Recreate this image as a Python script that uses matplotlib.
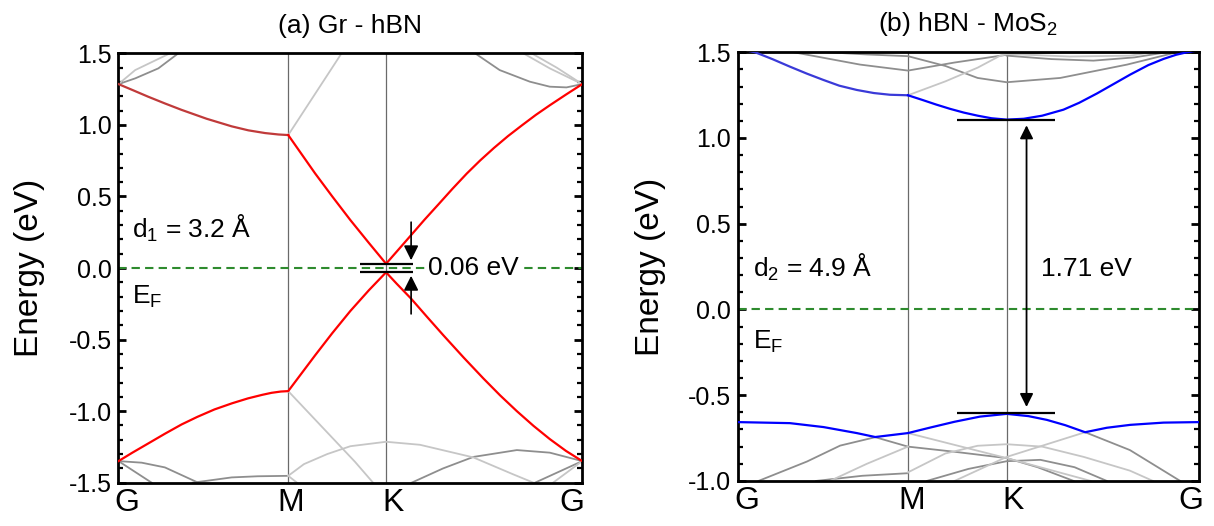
import numpy as np
import matplotlib
matplotlib.use("Agg")
import matplotlib.pyplot as plt
from matplotlib.ticker import MultipleLocator

plt.rcParams['font.family'] = ['Liberation Sans', 'DejaVu Sans']
plt.rcParams['mathtext.fontset'] = 'custom'
plt.rcParams['mathtext.rm'] = 'Liberation Sans'

# ---- high symmetry points (fraction of the path) ----
kpath_labels = ['G', 'M', 'K', 'G']
kM_a, kK_a = 0.366, 0.577
kM_b, kK_b = 0.369, 0.583

# ---- (a) Gr - hBN : graphene bands (red) ----
k_up_gm = [0, 0.03, 0.064, 0.10, 0.136, 0.19, 0.244, 0.28, 0.316, 0.345, 0.366]
E_up_gm = [1.285, 1.244, 1.197, 1.15, 1.105, 1.043, 0.99, 0.962, 0.943, 0.933, 0.929]
k_up_a = [0.366, 0.395, 0.424, 0.461, 0.50, 0.54, 0.577, 0.60, 0.631, 0.66, 0.69, 0.72, 0.751, 0.78,
          0.81, 0.84, 0.87, 0.90, 0.93, 0.965, 1.0]
E_up_a = [0.929, 0.795, 0.661, 0.50, 0.335, 0.175, 0.03, 0.115, 0.23, 0.338, 0.445, 0.553, 0.66, 0.752,
          0.84, 0.922, 0.997, 1.07, 1.137, 1.212, 1.285]
k_lo_a = [0, 0.03, 0.064, 0.10, 0.136, 0.17, 0.207, 0.245, 0.279, 0.31, 0.33, 0.35, 0.366,
          0.395, 0.424, 0.461, 0.50, 0.54, 0.577,
          0.60, 0.631, 0.665, 0.70, 0.745, 0.787, 0.823, 0.859, 0.895, 0.93, 0.965, 1.0]
E_lo_a = [-1.349, -1.29, -1.226, -1.158, -1.093, -1.04, -0.988, -0.945, -0.911, -0.886, -0.872, -0.863, -0.860,
          -0.735, -0.61, -0.455, -0.30, -0.155, -0.03,
          -0.11, -0.214, -0.34, -0.468, -0.628, -0.772, -0.89, -1.0, -1.103, -1.195, -1.278, -1.349]

# hBN / other bands (gray)
gray_dark_a = [
    ([0, 0.036, 0.086, 0.129], [1.285, 1.325, 1.395, 1.5]),
    ([0.769, 0.822, 0.887, 0.930, 0.966, 1.0], [1.5, 1.383, 1.302, 1.267, 1.262, 1.285]),
    ([0, 0.05, 0.10, 0.172], [-1.349, -1.36, -1.393, -1.5]),
    ([0.16, 0.244, 0.30, 0.366], [-1.5, -1.463, -1.455, -1.452]),
    ([0.632, 0.70, 0.765, 0.859, 0.93, 1.0], [-1.5, -1.40, -1.32, -1.272, -1.29, -1.349]),
    ([0, 0.0716], [-1.349, -1.5]),
    ([1.0, 0.898], [-1.349, -1.5]),
]
gray_light_a = [
    ([0, 0.036, 0.111], [1.285, 1.383, 1.5]),
    ([0.366, 0.481], [0.929, 1.5]),
    ([0.873, 0.930, 1.0], [1.5, 1.395, 1.285]),
    ([0.891, 0.945, 1.0], [1.5, 1.40, 1.285]),
    ([0.366, 0.51, 0.549], [-0.86, -1.354, -1.5]),
    ([0.366, 0.385], [-1.452, -1.5]),
    ([0.366, 0.40, 0.45, 0.50, 0.577, 0.65, 0.765, 0.85, 0.895],
     [-1.452, -1.37, -1.30, -1.245, -1.214, -1.235, -1.323, -1.44, -1.5]),
    ([1.0, 0.937], [-1.349, -1.5]),
]

# ---- (b) hBN - MoS2 : MoS2 band edges (blue) ----
k_cb_gm = [0, 0.0375, 0.075, 0.113, 0.15, 0.186, 0.22, 0.258, 0.295, 0.330, 0.369]
E_cb_gm = [1.52, 1.5, 1.46, 1.416, 1.375, 1.338, 1.305, 1.28, 1.262, 1.252, 1.249]
k_cb_b = [0.369, 0.40, 0.43, 0.46, 0.49, 0.52, 0.55, 0.583, 0.62, 0.66, 0.706, 0.74, 0.779, 0.815,
          0.851, 0.89, 0.923, 0.95, 0.974, 1.0]
E_cb_b = [1.249, 1.222, 1.195, 1.17, 1.148, 1.13, 1.115, 1.107, 1.112, 1.13, 1.165, 1.205, 1.26, 1.315,
          1.37, 1.425, 1.461, 1.485, 1.5, 1.512]
k_vb_b = [0, 0.113, 0.186, 0.258, 0.298, 0.369, 0.417, 0.47, 0.525, 0.583, 0.63, 0.670, 0.71, 0.753,
          0.80, 0.851, 0.923, 1.0]
E_vb_b = [-0.657, -0.663, -0.686, -0.721, -0.744, -0.721, -0.689, -0.655, -0.625, -0.609, -0.622, -0.644,
          -0.675, -0.716, -0.69, -0.673, -0.66, -0.657]

gray_dark_b = [
    ([0.121, 0.265, 0.369, 0.47, 0.583, 0.70], [1.5, 1.428, 1.393, 1.44, 1.485, 1.5]),
    ([0.193, 0.28, 0.369, 0.45, 0.52, 0.583, 0.699, 0.844, 0.952],
     [1.5, 1.487, 1.477, 1.42, 1.35, 1.325, 1.35, 1.428, 1.5]),
    ([0.583, 0.68, 0.771, 0.86, 0.93], [1.48, 1.46, 1.451, 1.47, 1.5]),
    ([0.045, 0.15, 0.222, 0.298, 0.369, 0.47, 0.583, 0.65, 0.728],
     [-1.0, -0.887, -0.794, -0.745, -0.80, -0.83, -0.867, -0.92, -1.0]),
    ([0.17, 0.27, 0.369], [-1.0, -0.97, -0.955]),
    ([0.41, 0.50, 0.583, 0.656, 0.73, 0.80], [-1.0, -0.93, -0.885, -0.877, -0.92, -1.0]),
    ([0.753, 0.85, 0.959], [-0.716, -0.82, -1.0]),
]
gray_light_b = [
    ([0.369, 0.45, 0.52, 0.569, 0.60], [1.249, 1.33, 1.41, 1.48, 1.5]),
    ([0.583, 0.72, 0.85, 0.9], [1.49, 1.475, 1.48, 1.5]),
    ([0.20, 0.28, 0.369], [-1.0, -0.9, -0.80]),
    ([0.369, 0.583, 0.765], [-0.721, -0.867, -1.0]),
    ([0.369, 0.45, 0.52, 0.583, 0.66, 0.75, 0.85, 0.90],
     [-0.95, -0.84, -0.795, -0.786, -0.80, -0.86, -0.94, -1.0]),
    ([0.753, 0.583, 0.47], [-0.716, -0.86, -1.0]),
]

dark_gray = '#8e8e8e'
light_gray = '#c6c6c6'

fig = plt.figure(figsize=(12.14, 5.26), dpi=100)
ax1 = fig.add_axes([0.0976, 0.0823, 0.382, 0.8163])
ax2 = fig.add_axes([0.6077, 0.0857, 0.3800, 0.8150])


def style_axes(ax, ylim, kM, kK, label_x):
    ax.set_xlim(0, 1)
    ax.set_ylim(*ylim)
    ax.set_xticks([])
    ax.yaxis.set_major_locator(MultipleLocator(0.5))
    ax.yaxis.set_minor_locator(MultipleLocator(0.1))
    ax.yaxis.set_major_formatter(plt.FormatStrFormatter('%.1f'))
    ax.tick_params(axis='y', which='both', direction='in', left=True, right=True, labelsize=18, pad=5)
    ax.tick_params(axis='y', which='major', length=6, width=2)
    ax.tick_params(axis='y', which='minor', length=3.5, width=1.6)
    for s in ax.spines.values():
        s.set_linewidth(2)
    ax.axvline(kM, color='#6a6a6a', lw=0.9, zorder=1)
    ax.axvline(kK, color='#6a6a6a', lw=0.9, zorder=1)
    ax.axhline(0, color='#2e8b2e', lw=1.5, dashes=(4, 2.5), zorder=2)
    for x, lab in zip(label_x, kpath_labels):
        ax.text(x, -0.012, lab, transform=ax.transAxes, ha='center', va='top', fontsize=23)
    ax.set_ylabel('Energy (eV)', fontsize=24)


# ---- panel (a) ----
for k, e in gray_dark_a:
    ax1.plot(k, e, color=dark_gray, lw=1.3, zorder=2)
for k, e in gray_light_a:
    ax1.plot(k, e, color=light_gray, lw=1.3, zorder=2)
ax1.plot(k_up_gm, E_up_gm, color='#c03a3a', lw=1.6, zorder=3)
ax1.plot(k_up_a, E_up_a, color='#ff0000', lw=1.6, zorder=3)
ax1.plot(k_lo_a, E_lo_a, color='#ff0000', lw=1.6, zorder=3)
style_axes(ax1, (-1.5, 1.5), kM_a, kK_a, [0.018, 0.372, 0.592, 0.978])
ax1.yaxis.set_label_coords(-0.158, 0.5)
ax1.set_title('(a) Gr - hBN', fontsize=19, pad=15)

ax1.hlines([0.025, -0.025], 0.521, 0.635, color='black', lw=1.6, zorder=4)
ax1.annotate('', xy=(0.631, 0.035), xytext=(0.631, 0.34),
             arrowprops=dict(arrowstyle='-|>', color='black', lw=1.2, mutation_scale=22))
ax1.annotate('', xy=(0.631, -0.035), xytext=(0.631, -0.34),
             arrowprops=dict(arrowstyle='-|>', color='black', lw=1.2, mutation_scale=22))
ax1.text(0.668, 0.0, '0.06 eV', fontsize=19, va='center', ha='left',
         bbox=dict(facecolor='white', edgecolor='none', pad=1))
ax1.text(0.03, 0.28, r'd$\mathregular{_1}$ = 3.2 Å', fontsize=19, va='center', ha='left')
ax1.text(0.03, -0.2, r'E$\mathregular{_F}$', fontsize=19, va='center', ha='left')

# ---- panel (b) ----
for k, e in gray_dark_b:
    ax2.plot(k, e, color=dark_gray, lw=1.3, zorder=2)
for k, e in gray_light_b:
    ax2.plot(k, e, color=light_gray, lw=1.3, zorder=2)
ax2.plot(k_cb_gm, E_cb_gm, color='#3a3ad8', lw=1.6, zorder=3)
ax2.plot(k_cb_b, E_cb_b, color='#0000ff', lw=1.6, zorder=3)
ax2.plot(k_vb_b, E_vb_b, color='#0000ff', lw=1.6, zorder=3)
style_axes(ax2, (-1.0, 1.5), kM_b, kK_b, [0.019, 0.376, 0.597, 0.983])
ax2.yaxis.set_label_coords(-0.155, 0.5)
ax2.set_title(r'(b) hBN - MoS$\mathregular{_2}$', fontsize=19, pad=15)

ax2.hlines([1.105, -0.601], 0.476, 0.687, color='black', lw=1.6, zorder=4)
ax2.annotate('', xy=(0.626, -0.585), xytext=(0.626, 1.09),
             arrowprops=dict(arrowstyle='<|-|>', color='black', lw=1.3, mutation_scale=20))
ax2.text(0.658, 0.237, '1.71 eV', fontsize=19, va='center', ha='left')
ax2.text(0.034, 0.247, r'd$\mathregular{_2}$ = 4.9 Å', fontsize=19, va='center', ha='left')
ax2.text(0.034, -0.19, r'E$\mathregular{_F}$', fontsize=19, va='center', ha='left')

fig.savefig('out.png', dpi=100)
